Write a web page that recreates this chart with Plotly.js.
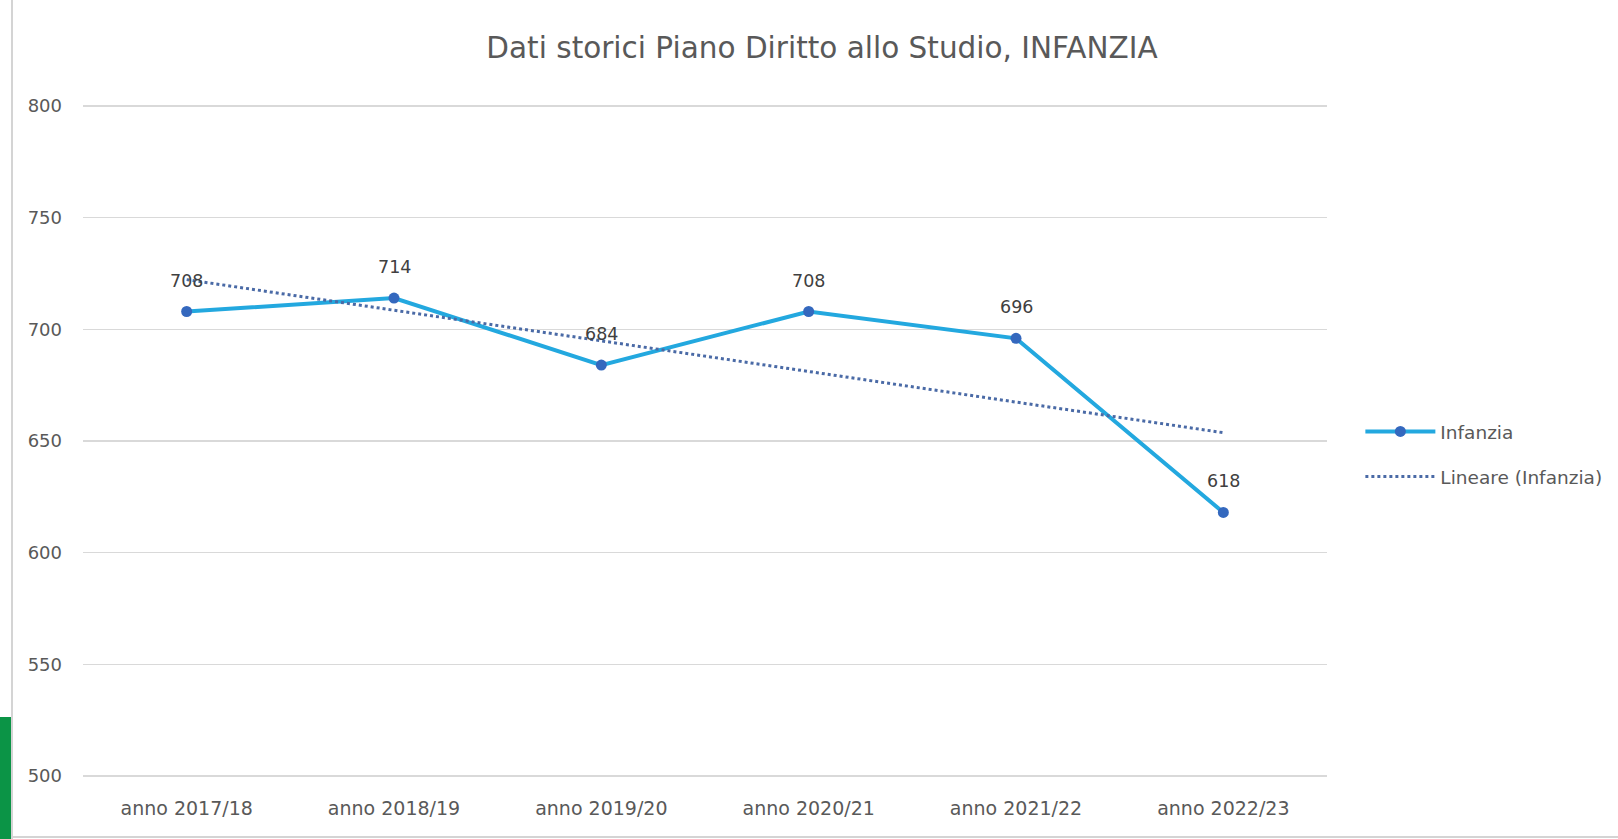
<!DOCTYPE html>
<html>
<head>
<meta charset="utf-8">
<script src="https://cdn.plot.ly/plotly-3.0.1.min.js"></script>
<style>
html,body{margin:0;padding:0;background:#fff;overflow:hidden;}
#wrap{position:relative;width:1618px;height:839px;}
#chart{position:absolute;left:0;top:0;width:1618px;height:839px;}
#lborder{position:absolute;left:11px;top:0;width:2px;height:839px;background:#d4d4d4;}
#bborder{position:absolute;left:11px;top:836px;width:1607px;height:2px;background:#d4d4d4;}
#green{position:absolute;left:0;top:717px;width:11px;height:122px;background:#0b9446;}
</style>
</head>
<body>
<div id="wrap">
<div id="chart"></div>
<div id="lborder"></div>
<div id="bborder"></div>
<div id="green"></div>
</div>
<script>
const categories = ["anno 2017/18","anno 2018/19","anno 2019/20","anno 2020/21","anno 2021/22","anno 2022/23"];
const infanzia = [708, 714, 684, 708, 696, 618];
const titleText = "Dati storici Piano Diritto allo Studio, INFANZIA";
const seriesName = "Infanzia";
const trendName = "Lineare (Infanzia)";

// linear trendline computed from the series (least squares)
const n = infanzia.length;
const xs = infanzia.map((_, i) => i + 1);
const mx = xs.reduce((a,b)=>a+b,0)/n;
const my = infanzia.reduce((a,b)=>a+b,0)/n;
let sxy = 0, sxx = 0;
for (let i=0;i<n;i++){ sxy += (xs[i]-mx)*(infanzia[i]-my); sxx += (xs[i]-mx)*(xs[i]-mx); }
const slope = sxy/sxx, intercept = my - slope*mx;
const trend = xs.map(x => intercept + slope*x);

const fontFam = "DejaVu Sans, sans-serif";

const traces = [
  {
    x: categories, y: infanzia, name: seriesName, type: "scatter", mode: "lines+markers",
    legendgroup: "a",
    line: {color: "#23A8DF", width: 4},
    marker: {color: "#3468BE", size: 11, line: {color: "#3468BE", width: 0}},
    cliponaxis: false
  },
  {
    x: categories, y: trend, name: trendName, type: "scatter", mode: "lines",
    legendgroup: "b",
    line: {color: "#4A6AA6", width: 3, dash: "dot"},
    cliponaxis: false
  }
];

const annotations = categories.map((c, i) => ({
  x: c, y: infanzia[i], xref: "x", yref: "y", text: String(infanzia[i]),
  showarrow: false, yshift: 31, yanchor: "middle",
  font: {family: fontFam, size: 17.5, color: "#404040"}
}));

const layout = {
  width: 1618, height: 839,
  paper_bgcolor: "rgba(0,0,0,0)", plot_bgcolor: "#ffffff",
  margin: {l: 83, r: 290, t: 105, b: 62},
  title: {text: titleText, x: 822/1618, xref: "container", xanchor: "center", y: 1 - 48/839, yref: "container", yanchor: "middle",
          font: {family: fontFam, size: 29.5, color: "#595959"}},
  showlegend: true,
  legend: {x: 1.026, xanchor: "left", y: 0.48, yanchor: "middle", itemwidth: 70,
           font: {family: fontFam, size: 18.5, color: "#595959"}, tracegroupgap: 18,
           bgcolor: "rgba(0,0,0,0)"},
  xaxis: {type: "category", range: [-0.5, 5.5], showgrid: false, zeroline: false, showline: false,
          ticks: "", ticklabelstandoff: 18,
          tickfont: {family: fontFam, size: 19, color: "#595959"}},
  yaxis: {range: [499.5, 800.5], dtick: 50, tick0: 500, showgrid: true, gridcolor: "#d9d9d9", gridwidth: 1.5,
          zeroline: false, showline: false, ticks: "", ticklabelstandoff: 20,
          tickfont: {family: fontFam, size: 18, color: "#595959"}},
  annotations: annotations
};

Plotly.newPlot("chart", traces, layout, {displayModeBar: false, staticPlot: true});
</script>
</body>
</html>
